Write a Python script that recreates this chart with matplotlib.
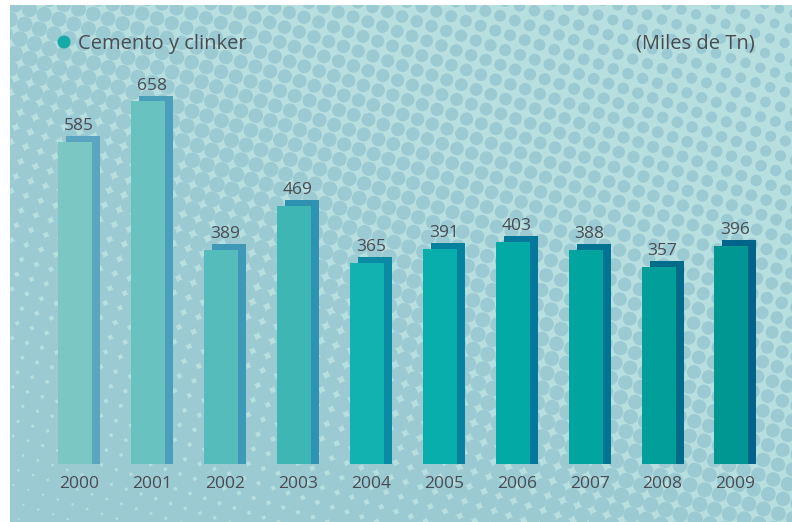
import numpy as np
import matplotlib
matplotlib.use("Agg")
import matplotlib.pyplot as plt
from matplotlib.patches import Rectangle

plt.rcParams['font.family'] = ['Open Sans', 'DejaVu Sans']

years = ['2000', '2001', '2002', '2003', '2004', '2005', '2006', '2007', '2008', '2009']
values = [585, 658, 389, 469, 365, 391, 403, 388, 357, 396]
front_colors = ['#7ac7c3', '#68c2c0', '#55bcbb', '#3db6b4', '#12b2b0',
                '#07aeab', '#03a9a5', '#02a4a0', '#019e9a', '#009691']
back_colors = ['#5aa6c0', '#4c9fbb', '#3f99b6', '#2d93b1', '#0a8aa3',
               '#06829f', '#04789a', '#037392', '#006c8a', '#00648a']
legend_label = 'Cemento y clinker'
unit_label = '(Miles de Tn)'

TEXT = '#474c52'
W, H = 792, 522
fig = plt.figure(figsize=(W / 100, H / 100), dpi=100)

# background panel with halftone dots, in pixel coordinates
bg = fig.add_axes([0, 0, 1, 1])
bg.set_xlim(0, W)
bg.set_ylim(H, 0)
bg.axis('off')
panel = Rectangle((10, 5), W - 10, H - 5, facecolor='#b8dfe0', edgecolor='none')
bg.add_patch(panel)
p = 15.5
ang = np.deg2rad(18)
pts = []
for i in range(-80, 80):
    for j in range(-80, 80):
        u, v = i * p, j * p
        px = u * np.cos(ang) - v * np.sin(ang)
        py = u * np.sin(ang) + v * np.cos(ang)
        if -20 < px < W + 20 and -20 < py < H + 20:
            pts.append((px, py))
pts = np.array(pts)
ratio = 0.62 + 0.37 * (1 - pts[:, 0] / W) + 0.33 * (pts[:, 1] / H)
d = ratio * p
dots = bg.scatter(pts[:, 0], pts[:, 1], s=(d * 0.72) ** 2, color='#9ccad3',
                  edgecolors='none', zorder=1)
dots.set_clip_path(panel)

# legend and unit
bg.scatter([64], [42], s=(13 * 0.72) ** 2, color='#14aaa8', edgecolors='none', zorder=3)
bg.text(78, 44, legend_label, fontsize=14.5, color=TEXT, va='center', ha='left', zorder=3)
bg.text(755, 44, unit_label, fontsize=14.5, color=TEXT, va='center', ha='right', zorder=3)

# bars
ax = fig.add_axes([0, 0, 1, 1])
ax.patch.set_alpha(0)
ax.axis('off')
step = 72.9
scale = 0.551
ax.set_xlim(-75.3 / step, (W - 75.3) / step)
ax.set_ylim(-58 / scale, 464 / scale)

x = np.arange(len(years))
bw = 34 / step
dx = 8 / step
dy = 5.8 / scale
vals = np.array(values)
ax.bar(x + dx, vals + dy, width=bw, color=back_colors, zorder=2)
ax.bar(x, vals, width=bw, color=front_colors, zorder=3)

for xi, v, yr in zip(x, vals, years):
    ax.text(xi + dx / 2, v + dy + 6 / scale, str(v), ha='center', va='baseline',
            fontsize=12.5, color=TEXT, zorder=4)
    ax.text(xi + dx / 2, -20 / scale, yr, ha='center', va='center',
            fontsize=12.5, color=TEXT, zorder=4)

fig.savefig('out.png', dpi=100)
